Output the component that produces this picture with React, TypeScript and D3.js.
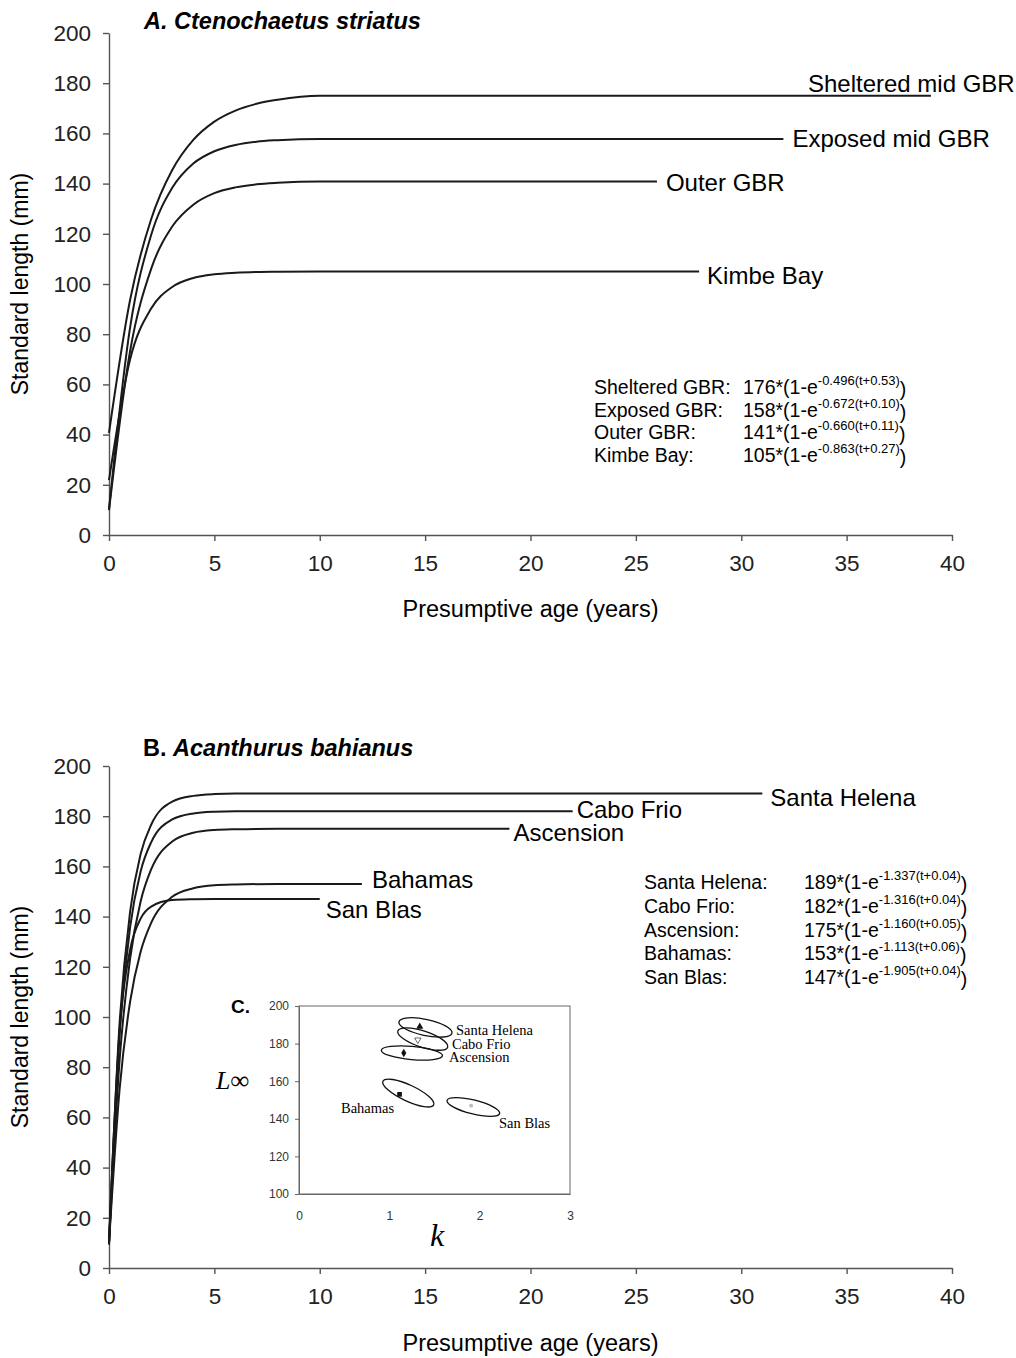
import * as d3 from 'd3'
import { useEffect, useRef } from 'react'

// Panel A – Ctenochaetus striatus, standard length (mm) by presumptive age
const agesA = [0, 1, 2, 3, 4, 5, 6, 7, 8, 10]
const shelteredMid = [40.7, 93.6, 125.8, 145.4, 157.4, 164.7, 169.1, 171.8, 173.4, 175.0]
const exposedMid = [10.3, 82.6, 119.5, 138.3, 148.0, 152.9, 155.4, 156.7, 157.3, 157.8]
const outerGbr = [9.9, 73.2, 106.0, 122.9, 131.6, 136.2, 138.5, 139.7, 140.3, 140.8]
const kimbeBay = [21.9, 69.9, 90.2, 98.8, 102.4, 103.9, 104.5, 104.8, 104.9, 105.0]
const namesA = ['Sheltered mid GBR', 'Exposed mid GBR', 'Outer GBR', 'Kimbe Bay']
const lastAgeA = [39, 32, 26, 28]

const eqNamesA = ['Sheltered GBR:', 'Exposed GBR:', 'Outer GBR:', 'Kimbe Bay:']
const linfA = [176, 158, 141, 105]
const kA = [0.496, 0.672, 0.66, 0.863]
const t0A = [0.53, 0.1, 0.11, 0.27]

// Panel B – Acanthurus bahianus
const agesB = [0, 0.5, 1, 1.5, 2, 3, 4, 5, 6, 8]
const santaHelena = [9.9, 97.2, 141.9, 164.9, 176.6, 185.8, 188.1, 188.8, 189.0, 189.0]
const caboFrio = [9.3, 92.6, 135.7, 158.0, 169.6, 178.7, 181.1, 181.8, 182.0, 182.0]
const ascension = [9.9, 82.5, 123.2, 146.0, 158.8, 169.9, 173.4, 174.5, 174.8, 175.0]
const bahamas = [9.9, 71.0, 106.0, 126.0, 137.5, 147.9, 151.3, 152.5, 152.8, 153.0]
const sanBlas = [10.8, 94.4, 126.7, 139.2, 144.0, 146.6, 146.9, 147.0, 147.0, 147.0]
const namesB = ['Santa Helena', 'Cabo Frio', 'Ascension', 'Bahamas', 'San Blas']
const lastAgeB = [31, 22, 19, 12, 10]

const linfB = [189, 182, 175, 153, 147]
const kB = [1.337, 1.316, 1.16, 1.113, 1.905]
const t0B = [0.04, 0.04, 0.05, 0.06, 0.04]

// Inset C – confidence ellipses of (k, Linf)
const ellipseK = [1.4, 1.37, 1.25, 1.21, 1.93]
const ellipseL = [188.6, 182.4, 175.0, 153.7, 146.3]
const ellipseRk = [0.3, 0.29, 0.34, 0.31, 0.3]
const ellipseRl = [4.3, 4.3, 3.5, 4.3, 3.7]
const ellipseTilt = [12, 18, 5, 25, 14]

const ageTicks = d3.range(0, 41, 5)
const lengthTicks = d3.range(0, 201, 20)
const insetKTicks = [0, 1, 2, 3]
const insetLTicks = [100, 120, 140, 160, 180, 200]

const SANS = '"Liberation Sans", Arial, sans-serif'
const SERIF = '"Liberation Serif", "Times New Roman", serif'

function drawAxes(g, x, y, yTitleY, xTitleY) {
  const xa = g
    .append('g')
    .attr('transform', `translate(0,${y(0)})`)
    .call(d3.axisBottom(x).tickValues(ageTicks).tickSize(6).tickSizeOuter(0).tickPadding(14))
  const ya = g
    .append('g')
    .attr('transform', `translate(${x(0)},0)`)
    .call(d3.axisLeft(y).tickValues(lengthTicks).tickSize(6).tickSizeOuter(0).tickPadding(12))
  ;[xa, ya].forEach((a) => {
    a.selectAll('path,line').attr('stroke', '#555').attr('stroke-width', 1.4)
    a.selectAll('text').attr('font-family', SANS).attr('font-size', 22.5).attr('fill', '#222')
  })
  g.append('text')
    .attr('x', (x(0) + x(40)) / 2)
    .attr('y', xTitleY)
    .attr('text-anchor', 'middle')
    .attr('font-family', SANS)
    .attr('font-size', 23.5)
    .text('Presumptive age (years)')
  g.append('text')
    .attr('transform', `translate(28,${yTitleY}) rotate(-90)`)
    .attr('text-anchor', 'middle')
    .attr('font-family', SANS)
    .attr('font-size', 23)
    .text('Standard length (mm)')
}

function drawCurves(g, x, y, ages, seriesList, lastAges, names, offsets) {
  const line = d3
    .line()
    .x((d) => x(d[0]))
    .y((d) => y(d[1]))
    .curve(d3.curveMonotoneX)
  seriesList.forEach((vals, i) => {
    const pts = ages.map((a, j) => [a, vals[j]])
    pts.push([lastAges[i], vals[vals.length - 1]])
    g.append('path')
      .datum(pts)
      .attr('fill', 'none')
      .attr('stroke', '#1a1a1a')
      .attr('stroke-width', 2)
      .attr('d', line)
    g.append('text')
      .attr('x', x(lastAges[i]) + offsets[i][0])
      .attr('y', y(vals[vals.length - 1]) + offsets[i][1])
      .attr('font-family', SANS)
      .attr('font-size', 24)
      .text(names[i])
  })
}

function drawEquations(g, names, linf, k, t0, nameX, eqX, baseY, step) {
  names.forEach((n, i) => {
    const yy = baseY + i * step
    g.append('text')
      .attr('x', nameX)
      .attr('y', yy)
      .attr('font-family', SANS)
      .attr('font-size', 19.5)
      .text(n)
    const t = g
      .append('text')
      .attr('x', eqX)
      .attr('y', yy)
      .attr('font-family', SANS)
      .attr('font-size', 19.5)
    t.append('tspan').text(`${linf[i]}*(1-e`)
    t.append('tspan')
      .attr('dy', -9)
      .attr('font-size', 13)
      .text(`-${k[i].toFixed(3)}(t+${t0[i].toFixed(2)})`)
    t.append('tspan').attr('dy', 11).text(')')
  })
}

export default function App() {
  const ref = useRef(null)

  useEffect(() => {
    const svg = d3.select(ref.current)
    svg.selectAll('*').remove()

    const x = d3.scaleLinear().domain([0, 40]).range([109, 952])

    // ---- Panel A
    const yA = d3.scaleLinear().domain([0, 200]).range([535, 33])
    const gA = svg.append('g')
    drawAxes(gA, x, yA, 284, 617)
    gA.append('text')
      .attr('x', 144)
      .attr('y', 29)
      .attr('font-family', SANS)
      .attr('font-size', 23.5)
      .attr('font-weight', 'bold')
      .attr('font-style', 'italic')
      .text('A. Ctenochaetus striatus')
    drawCurves(
      gA,
      x,
      yA,
      agesA,
      [shelteredMid, exposedMid, outerGbr, kimbeBay],
      lastAgeA,
      namesA,
      [
        [-123, -4],
        [9, 8],
        [9, 9.5],
        [8, 13]
      ]
    )
    drawEquations(gA, eqNamesA, linfA, kA, t0A, 594, 743, 394, 22.5)

    // ---- Panel B
    const yB = d3.scaleLinear().domain([0, 200]).range([1268, 766])
    const gB = svg.append('g')
    drawAxes(gB, x, yB, 1017, 1351)
    const tb = gB
      .append('text')
      .attr('x', 143)
      .attr('y', 756)
      .attr('font-family', SANS)
      .attr('font-size', 23.5)
      .attr('font-weight', 'bold')
    tb.append('tspan').text('B. ')
    tb.append('tspan').attr('font-style', 'italic').text('Acanthurus bahianus')
    drawCurves(
      gB,
      x,
      yB,
      agesB,
      [santaHelena, caboFrio, ascension, bahamas, sanBlas],
      lastAgeB,
      namesB,
      [
        [8, 12],
        [4, 7],
        [4, 12],
        [10, 4.5],
        [6, 18.5]
      ]
    )
    drawEquations(
      gB,
      namesB.map((n) => n + ':'),
      linfB,
      kB,
      t0B,
      644,
      804,
      889,
      23.8
    )

    // ---- Inset C
    const kx = d3.scaleLinear().domain([0, 3]).range([299, 570])
    const ly = d3.scaleLinear().domain([100, 200]).range([1194, 1006])
    const gC = svg.append('g')
    gC.append('rect')
      .attr('x', kx(0))
      .attr('y', ly(200))
      .attr('width', kx(3) - kx(0))
      .attr('height', ly(100) - ly(200))
      .attr('fill', 'white')
      .attr('stroke', '#666')
      .attr('stroke-width', 1)
    const cx = gC
      .append('g')
      .attr('transform', `translate(0,${ly(100)})`)
      .call(
        d3
          .axisBottom(kx)
          .tickValues(insetKTicks)
          .tickFormat(d3.format('d'))
          .tickSize(0)
          .tickSizeOuter(0)
          .tickPadding(17)
      )
    const cy = gC
      .append('g')
      .attr('transform', `translate(${kx(0)},0)`)
      .call(d3.axisLeft(ly).tickValues(insetLTicks).tickSize(4).tickSizeOuter(0).tickPadding(6))
    ;[cx, cy].forEach((a) => {
      a.selectAll('path,line').attr('stroke', '#666')
      a.selectAll('text').attr('font-family', SANS).attr('font-size', 12).attr('fill', '#333')
    })

    ellipseK.forEach((ek, i) => {
      gC.append('ellipse')
        .attr('cx', 0)
        .attr('cy', 0)
        .attr('rx', kx(ek + ellipseRk[i]) - kx(ek))
        .attr('ry', ly(ellipseL[i] - ellipseRl[i]) - ly(ellipseL[i]))
        .attr('transform', `translate(${kx(ek)},${ly(ellipseL[i])}) rotate(${ellipseTilt[i]})`)
        .attr('fill', 'none')
        .attr('stroke', '#111')
        .attr('stroke-width', 1.3)
    })

    const markers = [
      { type: d3.symbolTriangle, size: 22, fill: '#111', rot: 0 },
      { type: d3.symbolTriangle, size: 18, fill: 'white', rot: 180 },
      { type: d3.symbolDiamond, size: 22, fill: '#111', rot: 0 },
      { type: d3.symbolSquare, size: 22, fill: '#111', rot: 0 },
      { type: d3.symbolCircle, size: 12, fill: '#bbb', rot: 0 }
    ]
    kB.forEach((k, i) => {
      const m = markers[i]
      gC.append('path')
        .attr('d', d3.symbol().type(m.type).size(m.size)())
        .attr('transform', `translate(${kx(k)},${ly(linfB[i])}) rotate(${m.rot})`)
        .attr('fill', m.fill)
        .attr('stroke', i === 1 ? '#444' : 'none')
        .attr('stroke-width', 0.8)
    })

    const insetLabelPos = [
      [456, 1035],
      [452, 1048.5],
      [449, 1062],
      [341, 1113],
      [499, 1128]
    ]
    namesB.forEach((n, i) => {
      gC.append('text')
        .attr('x', insetLabelPos[i][0])
        .attr('y', insetLabelPos[i][1])
        .attr('font-family', SERIF)
        .attr('font-size', 14.5)
        .text(n)
    })
    gC.append('text')
      .attr('x', 231)
      .attr('y', 1013)
      .attr('font-family', SANS)
      .attr('font-weight', 'bold')
      .attr('font-size', 19)
      .text('C.')
    gC.append('text')
      .attr('x', 216)
      .attr('y', 1089)
      .attr('font-family', SERIF)
      .attr('font-style', 'italic')
      .attr('font-size', 26)
      .text('L∞')
    gC.append('text')
      .attr('x', 430)
      .attr('y', 1246)
      .attr('font-family', SERIF)
      .attr('font-style', 'italic')
      .attr('font-size', 32)
      .text('k')
  }, [])

  return (
    <svg
      ref={ref}
      width={1016}
      height={1358}
      style={{ position: 'absolute', left: 0, top: 0, background: 'white' }}
    />
  )
}
